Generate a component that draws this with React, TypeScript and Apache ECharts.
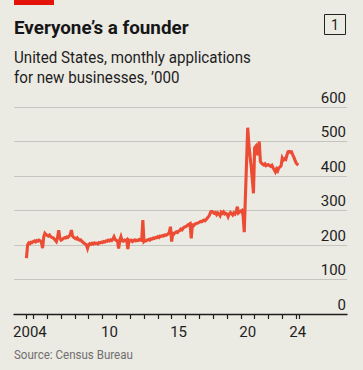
import React, { useEffect, useRef } from "react";
import * as echarts from "echarts";

// Monthly business applications, United States, '000 (Jul 2004 - Mar 2024)
const FIRST_YEAR = 2004;
const FIRST_MONTH = 6; // July (0-based)

const apps2004 = [162, 200, 206, 204, 208, 207];
const apps2005 = [210, 212, 209, 213, 211, 214, 212, 208, 191, 224, 234, 230];
const apps2006 = [228, 226, 229, 224, 222, 221, 218, 214, 210, 222, 243, 220];
const apps2007 = [214, 216, 219, 221, 220, 223, 222, 226, 230, 243, 226, 222];
const apps2008 = [220, 218, 221, 216, 214, 215, 211, 208, 205, 203, 200, 190];
const apps2009 = [201, 204, 202, 205, 203, 206, 204, 205, 203, 207, 206, 208];
const apps2010 = [207, 210, 209, 212, 211, 214, 212, 215, 213, 217, 224, 216];
const apps2011 = [213, 212, 190, 214, 224, 212, 211, 214, 212, 215, 188, 214];
const apps2012 = [212, 214, 210, 213, 215, 212, 214, 213, 216, 214, 213, 272];
const apps2013 = [210, 213, 212, 215, 216, 214, 218, 217, 220, 219, 222, 221];
const apps2014 = [224, 222, 226, 225, 227, 226, 229, 228, 230, 232, 238, 253];
const apps2015 = [210, 234, 232, 236, 238, 236, 240, 242, 246, 244, 249, 252];
const apps2016 = [253, 255, 258, 260, 262, 219, 258, 256, 260, 262, 263, 264];
const apps2017 = [266, 268, 267, 270, 272, 270, 274, 278, 282, 288, 296, 297];
const apps2018 = [295, 292, 294, 288, 293, 290, 285, 295, 292, 296, 290, 292];
const apps2019 = [290, 282, 290, 294, 291, 287, 293, 290, 296, 311, 293, 296];
const apps2020 = [298, 300, 286, 237, 340, 440, 540, 492, 458, 428, 390, 350];
const apps2021 = [482, 486, 460, 476, 500, 442, 437, 434, 432, 435, 430, 432];
const apps2022 = [433, 430, 428, 431, 424, 418, 412, 420, 415, 424, 426, 430];
const apps2023 = [452, 446, 450, 448, 460, 470, 471, 469, 470, 462, 455, 446];
const apps2024 = [438, 434, 432];

const monthly = [
  ...apps2004, ...apps2005, ...apps2006, ...apps2007, ...apps2008,
  ...apps2009, ...apps2010, ...apps2011, ...apps2012, ...apps2013,
  ...apps2014, ...apps2015, ...apps2016, ...apps2017, ...apps2018,
  ...apps2019, ...apps2020, ...apps2021, ...apps2022, ...apps2023,
  ...apps2024,
];

const yMin = 0;
const yMax = 600;
const yStep = 100;

const xLabelText = ["2004", "10", "15", "20", "24"];
const xLabelAt = [2004.75, 2010.5, 2015.5, 2020.5, 2024.12];
const xTickAt = [
  2004.5, 2005, 2006, 2007, 2008, 2009, 2010, 2011, 2012, 2013, 2014,
  2015, 2016, 2017, 2018, 2019, 2020, 2021, 2022, 2023, 2024, 2024.25,
];

const TITLE = "Everyone\u2019s a founder";
const SUB1 = "United States, monthly applications";
const SUB2 = "for new businesses, \u2019000";
const SOURCE = "Source: Census Bureau";

const BG = "#ebeae3";
const FONT = "Roboto, 'Noto Sans', sans-serif";

export default function App() {
  const ref = useRef<HTMLDivElement>(null);

  useEffect(() => {
    document.body.style.margin = "0";
    const chart = echarts.init(ref.current!, null, { renderer: "svg" });
    const data = monthly.map((v, i) => [FIRST_YEAR + (FIRST_MONTH + i) / 12, v]);

    chart.setOption({
      animation: false,
      backgroundColor: BG,
      grid: { left: 14, right: 16, top: 107, bottom: 56, containLabel: false },
      xAxis: {
        type: "value",
        min: 2003.6,
        max: 2027.68,
        splitLine: { show: false },
        axisLine: { show: true, lineStyle: { color: "#1e1e1e", width: 1.4 } },
        axisTick: {
          show: true,
          customValues: xTickAt,
          length: 5,
          lineStyle: { color: "#1e1e1e", width: 1.2 },
        },
        axisLabel: {
          customValues: xLabelAt,
          margin: 10,
          fontSize: 15,
          fontFamily: FONT,
          color: "#1e1e1e",
          formatter: (val: number) => {
            const i = xLabelAt.findIndex((p) => Math.abs(p - val) < 1e-6);
            return i >= 0 ? xLabelText[i] : "";
          },
        },
      },
      yAxis: {
        type: "value",
        position: "right",
        min: yMin,
        max: yMax,
        interval: yStep,
        axisLine: { show: false },
        axisTick: { show: false },
        splitLine: { show: true, lineStyle: { color: "#c6c5bf", width: 1 } },
        axisLabel: {
          inside: true,
          margin: 1,
          fontSize: 15,
          fontFamily: FONT,
          color: "#1e1e1e",
          verticalAlign: "bottom",
          padding: [0, 0, 2, 0],
        },
      },
      series: [
        {
          type: "line",
          data,
          showSymbol: false,
          symbol: "none",
          lineStyle: { color: "#ec4b34", width: 3.1, join: "miter" },
          z: 3,
        },
      ],
      graphic: [
        { type: "rect", shape: { x: 14, y: 0, width: 40, height: 5 }, style: { fill: "#e3120b" } },
        {
          type: "text",
          x: 14,
          y: 27,
          scaleX: 0.99,
          style: {
            text: TITLE,
            fontFamily: FONT,
            fontWeight: "bold",
            fontSize: 19,
            fill: "#161616",
            verticalAlign: "middle",
          },
        },
        {
          type: "rect",
          shape: { x: 324.5, y: 14.5, width: 21, height: 20 },
          style: { fill: "none", stroke: "#222", lineWidth: 1 },
        },
        {
          type: "text",
          x: 335,
          y: 24.5,
          style: {
            text: "1",
            fontFamily: FONT,
            fontSize: 14,
            fill: "#222",
            align: "center",
            verticalAlign: "middle",
          },
        },
        {
          type: "text",
          x: 14,
          y: 57.5,
          scaleX: 0.89,
          style: { text: SUB1, fontFamily: FONT, fontSize: 17, fill: "#1e1e1e", verticalAlign: "middle" },
        },
        {
          type: "text",
          x: 14,
          y: 77,
          scaleX: 0.89,
          style: { text: SUB2, fontFamily: FONT, fontSize: 17, fill: "#1e1e1e", verticalAlign: "middle" },
        },
        {
          type: "text",
          x: 14,
          y: 355,
          scaleX: 0.89,
          style: { text: SOURCE, fontFamily: FONT, fontSize: 13, fill: "#6f6f6f", verticalAlign: "middle" },
        },
      ],
    });

    return () => chart.dispose();
  }, []);

  return <div ref={ref} style={{ width: 363, height: 370, background: BG }} />;
}
